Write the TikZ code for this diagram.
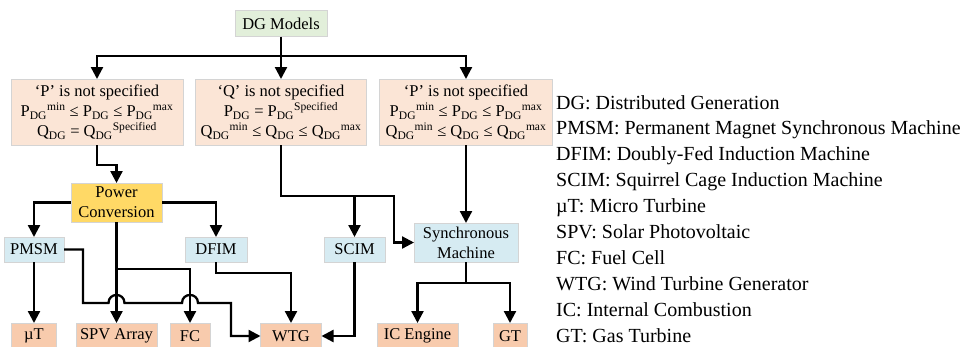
\documentclass[tikz,border=0pt]{standalone}
\usepackage{fontspec}
\setmainfont{Liberation Serif}
\usetikzlibrary{arrows.meta}
\definecolor{dggreen}{HTML}{E2EFDA}
\definecolor{condpeach}{HTML}{FBE5D6}
\definecolor{convgold}{HTML}{FFD966}
\definecolor{machblue}{HTML}{D6EBF2}
\definecolor{srcpeach}{HTML}{F8CBAD}
\definecolor{boxline}{HTML}{D4D4D4}
\begin{document}
\begin{tikzpicture}[x=1pt,y=-1pt,
  box/.style={draw=boxline, line width=0.8pt, inner sep=0pt, outer sep=0pt,
    align=center, font=\fontsize{16.5}{20}\selectfont},
  ln/.style={line width=2.3pt},
  arr/.style={line width=2.3pt, -{Triangle[length=12pt,width=12pt]}},
  legend/.style={anchor=base west, inner sep=0pt, font=\fontsize{20}{26}\selectfont}]
\useasboundingbox (0,0) rectangle (965,346);

% top level
\node[box, fill=dggreen, minimum width=92pt, minimum height=26pt] (dg) at (281,23.5) {DG Models};

% operating conditions
\node[box, fill=condpeach, minimum width=172pt, minimum height=66pt] (b1) at (97,112)
  {‘P’ is not specified\\
   P\textsubscript{DG}\textsuperscript{min} ≤ P\textsubscript{DG} ≤ P\textsubscript{DG}\textsuperscript{max}\\
   Q\textsubscript{DG} = Q\textsubscript{DG}\textsuperscript{Specified}};
\node[box, fill=condpeach, minimum width=171pt, minimum height=66pt] (b2) at (281,112)
  {‘Q’ is not specified\\
   P\textsubscript{DG} = P\textsubscript{DG}\textsuperscript{Specified}\\
   Q\textsubscript{DG}\textsuperscript{min} ≤ Q\textsubscript{DG} ≤ Q\textsubscript{DG}\textsuperscript{max}};
\node[box, fill=condpeach, minimum width=173pt, minimum height=66pt] (b3) at (466,112)
  {‘P’ is not specified\\
   P\textsubscript{DG}\textsuperscript{min} ≤ P\textsubscript{DG} ≤ P\textsubscript{DG}\textsuperscript{max}\\
   Q\textsubscript{DG}\textsuperscript{min} ≤ Q\textsubscript{DG} ≤ Q\textsubscript{DG}\textsuperscript{max}};

% conversion and machines
\node[box, fill=convgold, minimum width=91pt, minimum height=39pt] (pc) at (116.5,202.5) {Power\\Conversion};
\node[box, fill=machblue, minimum width=60pt, minimum height=25pt] (pmsm) at (34,249.5) {PMSM};
\node[box, fill=machblue, minimum width=62pt, minimum height=25pt] (dfim) at (216,249.5) {DFIM};
\node[box, fill=machblue, minimum width=61pt, minimum height=25pt] (scim) at (354.5,249.5) {SCIM};
\node[box, fill=machblue, minimum width=104pt, minimum height=39pt] (sm) at (466,242.5) {Synchronous\\Machine};

% sources
\node[box, fill=srcpeach, minimum width=45pt, minimum height=26pt] (ut) at (34,336) {µT};
\node[box, fill=srcpeach, minimum width=81pt, minimum height=26pt] (spv) at (116.5,336) {SPV Array};
\node[box, fill=srcpeach, minimum width=40pt, minimum height=26pt] (fc) at (190,336) {FC};
\node[box, fill=srcpeach, minimum width=61pt, minimum height=26pt] (wtg) at (291,336) {WTG};
\node[box, fill=srcpeach, minimum width=81pt, minimum height=26pt] (ic) at (417.5,336) {IC Engine};
\node[box, fill=srcpeach, minimum width=34pt, minimum height=26pt] (gt) at (510,336) {GT};

% branching points
\coordinate (dgsplit) at (281,56);
\coordinate (pcsplit) at (116.5,269);
\coordinate (b2turn) at (394,196);
\coordinate (scimsplit) at (354.5,196);
\coordinate (smsplit) at (466,283);

% connectors
\draw[arr] (dg.south) -- (b2.north);
\draw[arr] (dgsplit) -| (b1.north);
\draw[arr] (dgsplit) -| (b3.north);

\draw[arr] (b1.south) -- ++(0,20) -| (pc.north);
\draw[arr] (pc.west) -| (pmsm.north);
\draw[arr] (pc.east) -| (dfim.north);
\draw[arr] (pc.south) -- (spv.north);
\draw[arr] (pcsplit) -| (fc.north);
\draw[arr] (pmsm.south) -- (ut.north);

% PMSM to WTG, hopping over the SPV and FC feeds
\draw[arr] (pmsm.east) -| (83,303) -- (108.5,303)
  .. controls (108.5,292.3) and (124.5,292.3) .. (124.5,303) -- (182,303)
  .. controls (182,292.3) and (198,292.3) .. (198,303) -- (231,303) |- (wtg.west);

\draw[arr] (dfim.south) -- ++(0,11) -| (wtg.north);
\draw[arr] (scim.south) |- (wtg.east);

\draw[arr] (b2.south) |- (b2turn) |- (sm.west);
\draw[arr] (scimsplit) -- (scim.north);
\draw[arr] (b3.south) -- (sm.north);

\draw[ln] (sm.south) -- (smsplit);
\draw[arr] (smsplit) -| (ic.north);
\draw[arr] (smsplit) -| (gt.north);

% abbreviations
\foreach \t [count=\i] in {DG: Distributed Generation,
    PMSM: Permanent Magnet Synchronous Machine,
    DFIM: Doubly-Fed Induction Machine,
    SCIM: Squirrel Cage Induction Machine,
    µT: Micro Turbine,
    SPV: Solar Photovoltaic,
    FC: Fuel Cell,
    WTG: Wind Turbine Generator,
    IC: Internal Combustion,
    GT: Gas Turbine}
  \node[legend] (leg\i) at (556,{109+25.9*(\i-1)}) {\t};
\end{tikzpicture}
\end{document}
